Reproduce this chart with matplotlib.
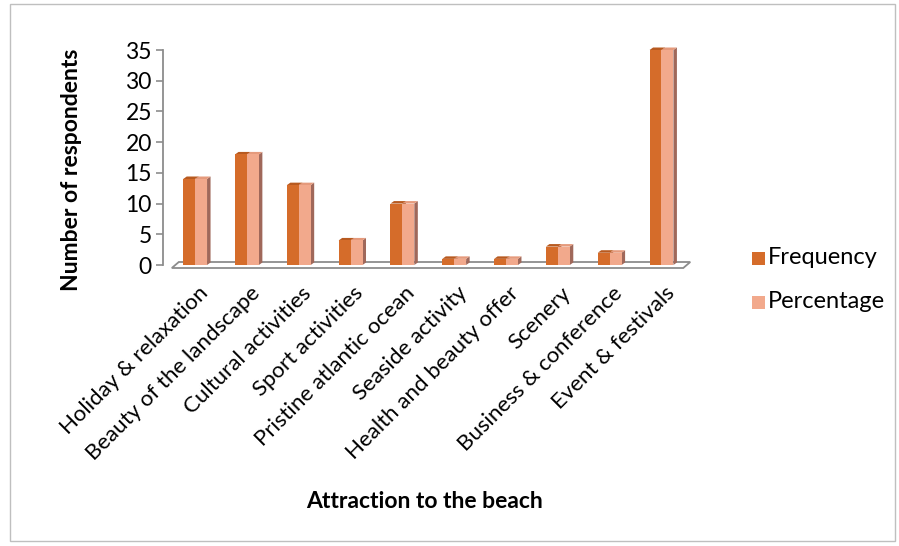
import matplotlib
matplotlib.use("Agg")
import matplotlib.pyplot as plt
from matplotlib.patches import Polygon, Rectangle
import numpy as np

categories = ["Holiday & relaxation", "Beauty of the landscape", "Cultural activities",
              "Sport activities", "Pristine atlantic ocean", "Seaside activity",
              "Health and beauty offer", "Scenery", "Business & conference",
              "Event & festivals"]
frequency = [14, 18, 13, 4, 10, 1, 1, 3, 2, 35]
percentage = [14, 18, 13, 4, 10, 1, 1, 3, 2, 35]
yticks = [0, 5, 10, 15, 20, 25, 30, 35]

plt.rcParams['font.family'] = ['Lato', 'DejaVu Sans']

W, H = 899, 546
fig = plt.figure(figsize=(W / 100, H / 100), dpi=100)
fig.patches.append(Rectangle((0.011, 0.01), 0.984, 0.982, transform=fig.transFigure,
                             fill=False, edgecolor="#bfbfbf", linewidth=1))

ax = fig.add_axes([163 / W, 1 - 265 / H, (690 - 163) / W, (265 - 50) / H])
ax.set_xlim(-0.62, 9.55)
ax.set_ylim(0, 35)
fig.canvas.draw()

c_freq, c_freq_side, c_freq_top = "#D56C2A", "#9E4E1C", "#B85A20"
c_pct, c_pct_side, c_pct_top = "#F2A98C", "#A0685A", "#E59A7C"

x = np.arange(len(categories))
bw = 0.23
dx_px, dy_px = 3.5, 2.5

to_data = ax.transData.inverted()


def shifted(px, py):
    disp = ax.transData.transform((px, py))
    return to_data.transform((disp[0] + dx_px, disp[1] + dy_px))


def draw_floor():
    x_left, x_right = -0.45, 9.42
    fdx, fdy = 7, 6
    p0 = ax.transData.transform((x_left, 0))
    p1 = ax.transData.transform((x_right, 0))
    pts = [p0 + [0, -3], p1 + [0, -3], p1 + [fdx, fdy - 3], p0 + [fdx, fdy - 3]]
    pts = [to_data.transform(p) for p in pts]
    ax.add_patch(Polygon(pts, closed=True, facecolor="white", edgecolor="#8c8c8c",
                         linewidth=1.3, zorder=1, clip_on=False))


def draw_bar(x0, h, face, side, top):
    ax.bar(x0, h, width=bw, align="edge", color=face, zorder=3, linewidth=0)
    a = (x0 + bw, 0)
    b = (x0 + bw, h)
    ax.add_patch(Polygon([a, b, shifted(*b), shifted(*a)], closed=True,
                         facecolor=side, edgecolor="none", zorder=2, clip_on=False))
    c = (x0, h)
    ax.add_patch(Polygon([c, b, shifted(*b), shifted(*c)], closed=True,
                         facecolor=top, edgecolor="none", zorder=2, clip_on=False))


draw_floor()
for i in range(len(categories)):
    draw_bar(x[i] - bw, frequency[i], c_freq, c_freq_side, c_freq_top)
    draw_bar(x[i], percentage[i], c_pct, c_pct_side, c_pct_top)

for s in ["top", "right", "bottom"]:
    ax.spines[s].set_visible(False)
ax.spines["left"].set_color("#8c8c8c")
ax.spines["left"].set_linewidth(1.3)
ax.spines["left"].set_bounds(0, 35)
ax.set_yticks(yticks)
ax.set_yticklabels([str(v) for v in yticks], fontsize=16.5)
ax.tick_params(axis="y", direction="out", length=5, color="#8c8c8c", width=1.2, pad=3)

ax.set_xticks(x + 0.05)
ax.set_xticklabels(categories, rotation=45, ha="right", va="top",
                   rotation_mode="anchor", fontsize=16)
ax.tick_params(axis="x", length=0, pad=13)

fig.text(72 / W, 1 - 170 / H, "Number of respondents", rotation=90, ha="center",
         va="center", fontsize=16.5, fontweight="bold")
fig.text(424 / W, 1 - 502 / H, "Attraction to the beach", ha="center",
         va="center", fontsize=16.5, fontweight="bold")

fig.patches.append(Rectangle((752 / W, 1 - 265 / H), 13 / W, 13 / H,
                             transform=fig.transFigure, facecolor=c_freq))
fig.patches.append(Rectangle((752 / W, 1 - 309 / H), 13 / W, 13 / H,
                             transform=fig.transFigure, facecolor=c_pct))
fig.text(768 / W, 1 - 258 / H, "Frequency", ha="left", va="center", fontsize=17)
fig.text(768 / W, 1 - 302 / H, "Percentage", ha="left", va="center", fontsize=17)

fig.savefig("out.png", dpi=100)
